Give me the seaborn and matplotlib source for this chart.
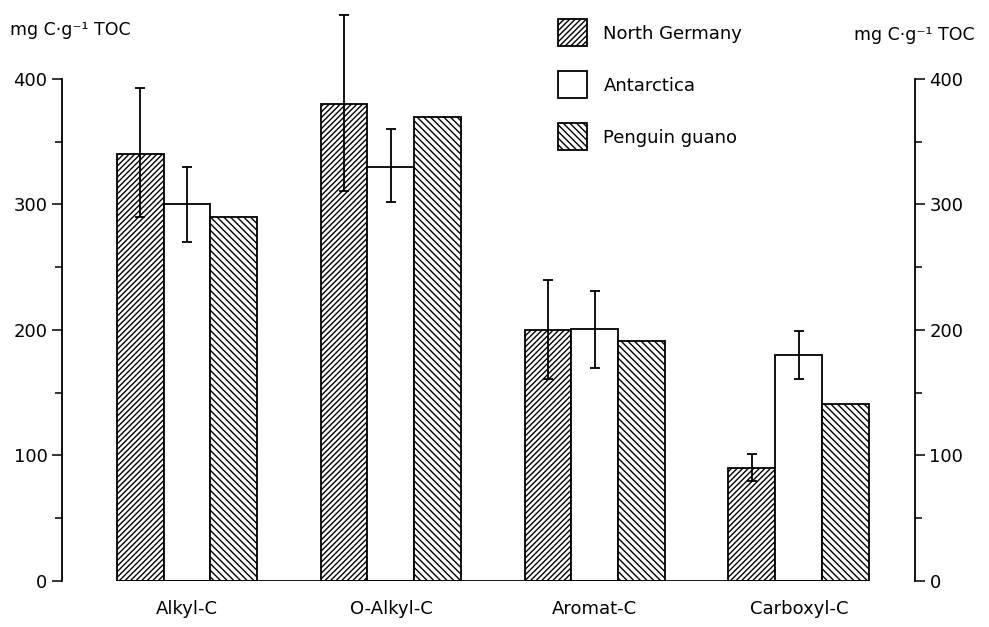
import numpy as np
import pandas as pd
import matplotlib
matplotlib.use("Agg")
import matplotlib.pyplot as plt
import seaborn as sns
from matplotlib.ticker import MultipleLocator

# values (mg C per g TOC)
categories = ["Alkyl-C", "O-Alkyl-C", "Aromat-C", "Carboxyl-C"]
sites = ["North Germany", "Antarctica", "Penguin guano"]
north_germany = [340, 380, 200, 90]
antarctica = [300, 330, 201, 180]
penguin_guano = [290, 370, 191, 141]

# error bar ends (low / high), no error bars for penguin guano
ng_low = [290, 311, 161, 80]
ng_high = [393, 451, 240, 101]
ant_low = [270, 302, 170, 161]
ant_high = [330, 360, 231, 199]

df = pd.DataFrame({
    "fraction": categories * 3,
    "site": [s for s in sites for _ in categories],
    "value": north_germany + antarctica + penguin_guano,
})

sns.set_style("white")
plt.rcParams["font.family"] = ["DejaVu Sans"]
plt.rcParams["hatch.linewidth"] = 1.0
plt.rcParams["text.color"] = "black"

fig = plt.figure(figsize=(9.89, 6.27), dpi=100)
ax = fig.add_axes([0.0627, 0.0734, 0.8623, 0.8006])

sns.barplot(data=df, x="fraction", y="value", hue="site", order=categories,
            hue_order=sites, palette=["white"] * 3, edgecolor="black",
            linewidth=1.3, width=0.69, gap=0, legend=False, ax=ax)

hatches = ["//////", "", "\\\\\\\\\\"]
for cont, h in zip(ax.containers, hatches):
    for bar in cont:
        bar.set_hatch(h)

# error bars drawn at the bar centres
for cont, lo, hi, vals in [(ax.containers[0], ng_low, ng_high, north_germany),
                           (ax.containers[1], ant_low, ant_high, antarctica)]:
    xs = [b.get_x() + b.get_width() / 2 for b in cont]
    yerr = [np.array(vals) - np.array(lo), np.array(hi) - np.array(vals)]
    ax.errorbar(xs, vals, yerr=yerr, fmt="none", ecolor="black",
                elinewidth=1.3, capsize=3.5, capthick=1.3, clip_on=False, zorder=5)

# baseline only under the bars
first = ax.containers[0][0]
last = ax.containers[2][-1]
ax.hlines(0, first.get_x(), last.get_x() + last.get_width(), color="black", lw=1.3)

ax.set_xlim(-0.613, 3.569)
ax.set_ylim(0, 400)
ax.set_xlabel("")
ax.set_ylabel("")
ax.yaxis.set_major_locator(MultipleLocator(100))
ax.yaxis.set_minor_locator(MultipleLocator(50))
ax.tick_params(axis="y", which="both", direction="out", left=True,
               labelsize=13, width=1.1, colors="black")
ax.tick_params(axis="y", which="major", length=7)
ax.tick_params(axis="y", which="minor", length=5)
ax.tick_params(axis="x", length=0, labelsize=13, pad=14, labelcolor="black")
for s in ["top", "right", "bottom"]:
    ax.spines[s].set_visible(False)
ax.spines["left"].set_linewidth(1.3)
ax.spines["left"].set_color("black")

ax2 = ax.twinx()
ax2.set_ylim(0, 400)
ax2.yaxis.set_major_locator(MultipleLocator(100))
ax2.yaxis.set_minor_locator(MultipleLocator(50))
ax2.tick_params(axis="y", which="both", direction="out", right=True,
                labelsize=13, width=1.1, colors="black")
ax2.tick_params(axis="y", which="major", length=7)
ax2.tick_params(axis="y", which="minor", length=5)
for s in ["top", "left", "bottom"]:
    ax2.spines[s].set_visible(False)
ax2.spines["right"].set_linewidth(1.3)
ax2.spines["right"].set_color("black")
ax2.grid(False)

fig.text(0.010, 0.952, "mg C·g⁻¹ TOC", fontsize=12.5, ha="left", va="center")
fig.text(0.985, 0.944, "mg C·g⁻¹ TOC", fontsize=12.5, ha="right", va="center")

fig.legend(ax.containers, sites, loc="upper left",
           bbox_to_anchor=(0.548, 0.995), frameon=False, fontsize=13,
           handlelength=1.6, handleheight=1.9, labelspacing=1.4,
           handletextpad=0.9)

fig.savefig("out.png", dpi=100)
